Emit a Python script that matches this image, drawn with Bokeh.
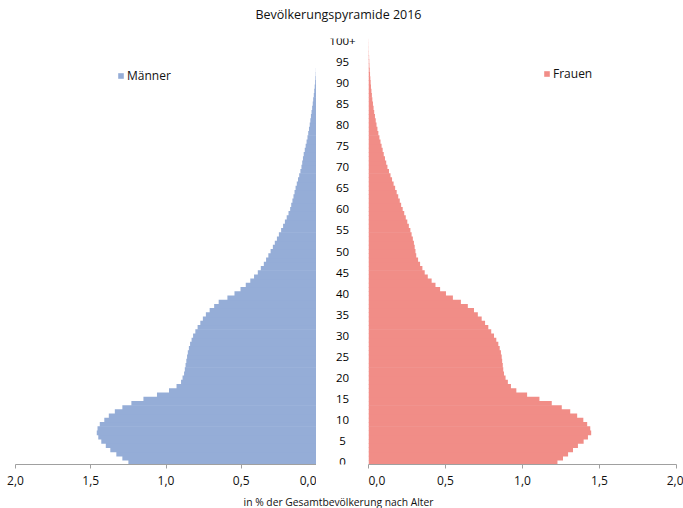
from bokeh.plotting import figure
from bokeh.models import Range1d, FixedTicker, Legend, LegendItem, ColumnDataSource
from bokeh.layouts import column, row
from bokeh.embed import file_html
from bokeh.resources import INLINE
from bokeh.core.properties import value

title_text = "Bevölkerungspyramide 2016"
x_title = "in % der Gesamtbevölkerung nach Alter"
series_names = ["Männer", "Frauen"]

ages = list(range(101))

males = [
    1.25, 1.29, 1.33, 1.37, 1.40, 1.43, 1.45, 1.46, 1.455, 1.44,
    1.41, 1.38, 1.34, 1.29, 1.23, 1.15, 1.06, 0.98, 0.93, 0.90,
    0.89, 0.88, 0.875, 0.87, 0.865, 0.86, 0.855, 0.848, 0.84, 0.83,
    0.82, 0.805, 0.79, 0.772, 0.755, 0.735, 0.71, 0.68, 0.65, 0.592,
    0.545, 0.505, 0.47, 0.44, 0.415, 0.39, 0.37, 0.35, 0.335, 0.32,
    0.305, 0.29, 0.277, 0.263, 0.25, 0.235, 0.222, 0.21, 0.198, 0.186,
    0.175, 0.168, 0.16, 0.153, 0.146, 0.139, 0.131, 0.123, 0.115, 0.107,
    0.10, 0.095, 0.09, 0.085, 0.078, 0.072, 0.066, 0.06, 0.055, 0.05,
    0.045, 0.041, 0.037, 0.033, 0.029, 0.025, 0.022, 0.018, 0.015, 0.012,
    0.009, 0.007, 0.005, 0.004, 0.003, 0.002, 0.0015, 0.001, 0.0007, 0.0005,
    0.0003,
]

females = [
    1.227, 1.263, 1.296, 1.328, 1.36, 1.397, 1.425, 1.446, 1.44, 1.42,
    1.395, 1.355, 1.31, 1.255, 1.19, 1.11, 1.03, 0.96, 0.925, 0.905,
    0.89, 0.88, 0.875, 0.872, 0.868, 0.865, 0.86, 0.852, 0.843, 0.83,
    0.815, 0.797, 0.778, 0.757, 0.735, 0.71, 0.685, 0.645, 0.60, 0.548,
    0.503, 0.465, 0.435, 0.41, 0.385, 0.365, 0.35, 0.335, 0.322, 0.31,
    0.305, 0.30, 0.295, 0.288, 0.28, 0.272, 0.262, 0.252, 0.242, 0.232,
    0.222, 0.212, 0.203, 0.193, 0.183, 0.173, 0.163, 0.153, 0.143, 0.133,
    0.123, 0.115, 0.107, 0.099, 0.092, 0.085, 0.078, 0.071, 0.064, 0.058,
    0.052, 0.047, 0.042, 0.037, 0.033, 0.029, 0.025, 0.022, 0.019, 0.016,
    0.014, 0.012, 0.010, 0.008, 0.006, 0.005, 0.004, 0.003, 0.002, 0.0015,
    0.001,
]

age_ticks = [0, 5, 10, 15, 20, 25, 30, 35, 40, 45, 50,
             55, 60, 65, 70, 75, 80, 85, 90, 95, 100]
age_labels = ["0", "5", "10", "15", "20", "25", "30", "35", "40", "45", "50",
              "55", "60", "65", "70", "75", "80", "85", "90", "95", "100+"]

x_ticks = [0.0, 0.5, 1.0, 1.5, 2.0]
x_tick_labels = ["0,0", "0,5", "1,0", "1,5", "2,0"]

FONT = "Open Sans"
BLUE = "#95ADD7"
PINK = "#F18D87"
TXT = "#111111"

Y_START, Y_END = -0.5, 100.5
TOP = 12
BOTTOM = 30
ROW_H = TOP + 426 + BOTTOM


def style_axis(ax):
    ax.ticker = FixedTicker(ticks=x_ticks)
    ax.major_label_overrides = {t: l for t, l in zip(x_ticks, x_tick_labels)}
    ax.axis_line_color = "#a0a0a0"
    ax.major_tick_line_color = "#a0a0a0"
    ax.major_tick_out = 4
    ax.major_tick_in = 0
    ax.minor_tick_line_color = None
    ax.major_label_standoff = 7
    ax.major_label_text_font = FONT
    ax.major_label_text_font_size = "12px"
    ax.major_label_text_color = TXT


def side(width, xr, color, name, vals, bl, br, loc):
    p = figure(width=width, height=ROW_H, x_range=xr,
               y_range=Range1d(Y_START, Y_END),
               output_backend="svg", toolbar_location=None,
               y_axis_location=None,
               min_border_left=bl, min_border_right=br,
               min_border_top=TOP, min_border_bottom=BOTTOM)
    p.outline_line_color = None
    p.grid.visible = False
    src = ColumnDataSource(dict(age=ages, v=vals))
    r = p.hbar(y="age", left=0, right="v", height=1.15, source=src,
               fill_color=color, line_color=None)
    style_axis(p.xaxis[0])
    leg = Legend(items=[LegendItem(label=name, renderers=[r])],
                 location=loc, padding=0, margin=0, spacing=0,
                 glyph_width=7, glyph_height=7, label_height=15,
                 label_standoff=3,
                 label_text_font=FONT, label_text_font_size="12px",
                 label_text_color=TXT,
                 border_line_color=None, background_fill_alpha=0)
    p.add_layout(leg)
    return p


left = side(316, Range1d(2.0, 0.0), BLUE, series_names[0], males, 15, 0, (102, 380))
right = side(315, Range1d(0.0, 2.0), PINK, series_names[1], females, 0, 7, (175, 382))

mid = figure(width=52, height=ROW_H, x_range=Range1d(-1, 1),
             y_range=Range1d(Y_START, Y_END),
             output_backend="svg", toolbar_location=None,
             y_axis_location=None,
             min_border_left=0, min_border_right=0,
             min_border_top=TOP, min_border_bottom=BOTTOM)
mid.outline_line_color = None
mid.grid.visible = False
style_axis(mid.xaxis[0])
mid.xaxis[0].ticker = FixedTicker(ticks=[0])
mid.xaxis[0].major_label_overrides = {0: x_tick_labels[0]}
mid.xaxis[0].major_label_text_alpha = 0
mid.xaxis[0].axis_line_color = None
mid.xaxis[0].major_tick_line_color = None
mid.text(x=[0] * len(age_ticks), y=age_ticks, text=age_labels,
         text_align="center", text_baseline="middle",
         text_font=value(FONT), text_font_size="11.5px", text_color="#000000")


def text_fig(h, yc, txt, size):
    f = figure(width=683, height=h, x_range=Range1d(0, 683), y_range=Range1d(h, 0),
               output_backend="svg", toolbar_location=None,
               x_axis_location=None, y_axis_location=None, min_border=0)
    f.outline_line_color = None
    f.grid.visible = False
    f.text(x=[338], y=[yc], text=[txt], text_align="center",
           text_baseline="middle", text_font=value(FONT),
           text_font_size=size, text_color=TXT)
    return f


title_fig = text_fig(26, 14, title_text, "12.5px")
xlabel_fig = text_fig(508 - 26 - ROW_H, 7, x_title, "10.3px")

layout = column(title_fig, row(left, mid, right), xlabel_fig, spacing=0)

with open("out.html", "w") as fh:
    fh.write(file_html(layout, INLINE))
